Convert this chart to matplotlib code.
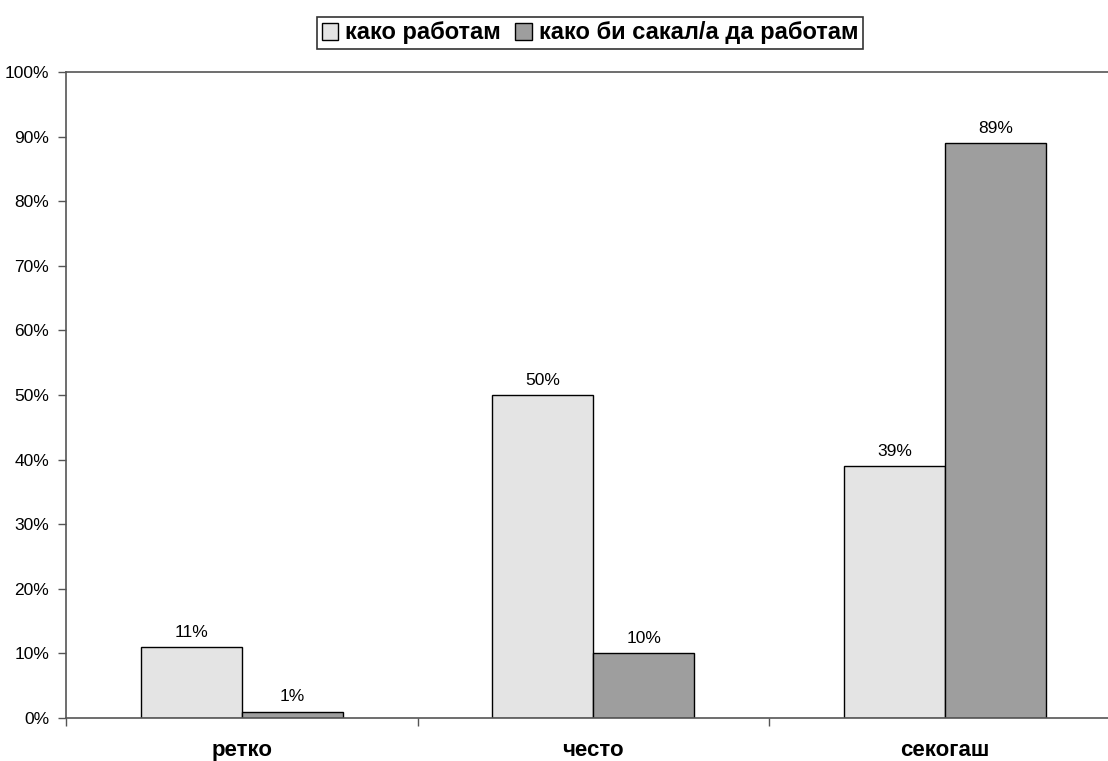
import matplotlib.pyplot as plt
import numpy as np

plt.rcParams["font.family"] = ["Liberation Sans", "DejaVu Sans"]

categories = ["ретко", "често", "секогаш"]
series_names = ["како работам", "како би сакал/а да работам"]
values_now = [11, 50, 39]
values_wish = [1, 10, 89]
yticks = [0, 10, 20, 30, 40, 50, 60, 70, 80, 90, 100]

fig = plt.figure(figsize=(11.08, 7.61), dpi=100)
ax = fig.add_axes([66 / 1108, 1 - 718 / 761, 1042 / 1108, 646 / 761])

x = np.arange(len(categories))
w = 0.287
b1 = ax.bar(x - w / 2, values_now, w, color="#e4e4e4", edgecolor="black",
            linewidth=1.0, label=series_names[0])
b2 = ax.bar(x + w / 2, values_wish, w, color="#9e9e9e", edgecolor="black",
            linewidth=1.0, label=series_names[1])

for bars, vals in [(b1, values_now), (b2, values_wish)]:
    for rect, v in zip(bars, vals):
        ax.annotate(f"{v}%", (rect.get_x() + rect.get_width() / 2, v),
                    xytext=(0, 10.5), textcoords="offset points",
                    ha="center", va="center", fontsize=12.5)

ax.set_ylim(0, 100)
ax.set_xlim(-0.5, 2.464)
ax.set_yticks(yticks)
ax.set_yticklabels([f"{t}%" for t in yticks], fontsize=12.5)
ax.set_xticks([-0.5, 0.5, 1.5])
ax.set_xticklabels([])
ax.set_xticks(x, minor=True)
ax.set_xticklabels(categories, minor=True, fontsize=16, fontweight="bold")
ax.tick_params(axis="x", which="minor", length=0, pad=16)
ax.tick_params(axis="x", which="major", length=6, width=1, color="#555555")
ax.tick_params(axis="y", length=6, width=1, color="#555555", pad=6)

for s in ["left", "bottom", "top"]:
    ax.spines[s].set_color("#555555")
    ax.spines[s].set_linewidth(1.2)
ax.spines["right"].set_visible(False)

leg = fig.legend(loc="center", bbox_to_anchor=(590 / 1108, 1 - 33 / 761),
                 ncol=2, frameon=True, fancybox=False,
                 prop={"weight": "bold", "size": 17},
                 handlelength=0.7, handleheight=0.7, handletextpad=0.3,
                 columnspacing=0.6, borderpad=0.2, edgecolor="black")
leg.get_frame().set_linewidth(1.2)

fig.savefig("out.png", dpi=100)
